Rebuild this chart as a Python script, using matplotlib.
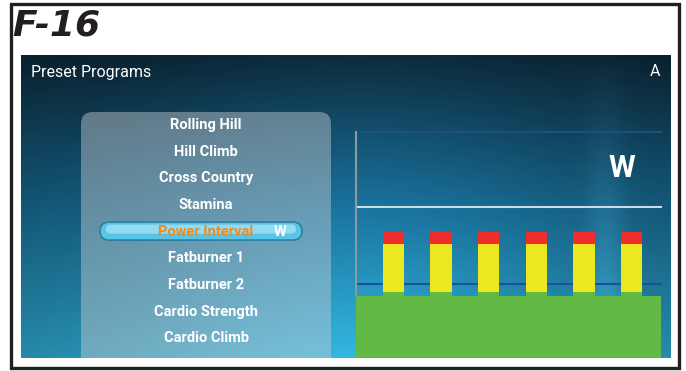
import numpy as np
import matplotlib.pyplot as plt
from matplotlib.patches import Rectangle, FancyBboxPatch

# programas da lista (em ordem, de cima para baixo)
programs = ['Rolling Hill', 'Hill Climb', 'Cross Country', 'Stamina', 'Power Interval',
            'Fatburner 1', 'Fatburner 2', 'Cardio Strength', 'Cardio Climb', 'Cardio Interval']
selected = 'Power Interval'

# perfil do programa Power Interval (niveis)
intervals = [1, 2, 3, 4, 5, 6]
base_level = 0.82
step_level = [0.88, 0.88, 0.88, 0.88, 0.88, 0.88]
yellow_top = [1.51, 1.51, 1.51, 1.51, 1.51, 1.51]
red_top = [1.67, 1.67, 1.67, 1.67, 1.67, 1.67]
grid_levels = [0.98, 2.0, 3.0]
grid_colors = ['#17529a', '#c9dde6', '#1d4f86']

W, H = 686, 371
fig = plt.figure(figsize=(W / 100, H / 100), dpi=100)
fig.patch.set_facecolor('white')
ax = fig.add_axes([0, 0, 1, 1])
ax.set_xlim(0, W)
ax.set_ylim(H, 0)
ax.axis('off')

# fundo da tela (gradiente tipo papel de parede)
sx0, sx1, sy0, sy1 = 21, 671, 55, 358
ny, nx = 200, 400
yy, xx = np.mgrid[0:1:ny * 1j, 0:1:nx * 1j]
top = np.array([0.05, 0.17, 0.24])
mid = np.array([0.10, 0.45, 0.62])
bot = np.array([0.20, 0.72, 0.88])
t = yy[..., None]
col = np.where(t < 0.5, top + (mid - top) * (t / 0.5), mid + (bot - mid) * ((t - 0.5) / 0.5))
shade = 0.72 + 0.28 * np.exp(-((xx - 0.52) / 0.35) ** 2)
col = col * shade[..., None]
beam = 0.12 * np.exp(-((xx - 0.9) / 0.03) ** 2) * (0.1 + yy)
col = np.clip(col + beam[..., None] * np.array([0.6, 0.9, 1.0]), 0, 1)
ax.imshow(col, extent=(sx0, sx1, sy1, sy0), aspect='auto', zorder=0)
screen = Rectangle((sx0, sy0), sx1 - sx0, sy1 - sy0, transform=ax.transData, fill=False, lw=0)
ax.add_patch(screen)

ax.text(31, 72, 'Preset Programs', color='white', fontsize=11.5, family='Roboto', va='center')
ax.text(655, 72, 'A', color='white', fontsize=11.5, family='Roboto', va='center', ha='center')

# painel da lista
panel = FancyBboxPatch((81, 112), 250, 280, boxstyle='round,pad=0,rounding_size=12',
                       fc=(0.78, 0.80, 0.82), alpha=0.45, lw=0, zorder=2)
ax.add_patch(panel)
panel.set_clip_path(screen)

y0, dy = 125, 26.65
for i, name in enumerate(programs):
    y = y0 + i * dy
    if name == selected:
        pill = FancyBboxPatch((100, y - 9.5), 202, 18, boxstyle='round,pad=0,rounding_size=9',
                              fc='#58c4e6', ec='#2a7fa3', lw=1.2, zorder=3)
        ax.add_patch(pill)
        hl = FancyBboxPatch((106, y - 7), 190, 9, boxstyle='round,pad=0,rounding_size=4.5',
                            fc='#a6e4f6', ec='none', alpha=0.75, zorder=3)
        ax.add_patch(hl)
        ax.text(206, y, name, color='#f28a1c', fontsize=10.5, weight='bold',
                family='Roboto', ha='center', va='center', zorder=4)
        ax.text(280, y, 'W', color='white', fontsize=10.5, weight='bold',
                family='Roboto', ha='center', va='center', zorder=4)
    else:
        tx = ax.text(206, y, name, color='white', fontsize=10.5, weight='bold',
                     family='Roboto', ha='center', va='center', zorder=4)
        tx.set_clip_path(screen)

ax.text(622, 168, 'W', color='white', fontsize=22, weight='bold', family='Roboto',
        ha='center', va='center', zorder=4)

# titulo e moldura
ax.text(12, 26, 'F-16', fontsize=26, weight='bold', style='italic', family='DejaVu Sans',
        va='center', ha='left', color='#231f20')
ax.add_patch(Rectangle((11, 4), 668, 364, fill=False, ec='#231f20', lw=2.4, zorder=5))

# grafico do perfil
cx0, cx1, cy0, cy1 = 356, 661, 132, 358
cax = fig.add_axes([cx0 / W, (H - cy1) / H, (cx1 - cx0) / W, (cy1 - cy0) / H])
cax.patch.set_alpha(0)
cax.set_xlim(0.217, 0.217 + (cx1 - cx0) / 47.64)
cax.set_ylim(0, 3.0)
for s in ['top', 'right', 'bottom']:
    cax.spines[s].set_visible(False)
cax.spines['left'].set_color('#8d9aa0')
cax.spines['left'].set_linewidth(1.5)
cax.spines['left'].set_bounds(base_level, 3.0)
cax.set_xticks([])
cax.set_yticks([])
for lv, c in zip(grid_levels, grid_colors):
    cax.axhline(lv, color=c, lw=1.5, zorder=1, clip_on=False)
cax.axhspan(0, base_level, color='#62b946', lw=0, zorder=2)
steps = np.array(step_level)
yel = np.array(yellow_top)
red = np.array(red_top)
cax.bar(intervals, steps - base_level, width=0.45, bottom=base_level, color='#62b946', zorder=2)
cax.bar(intervals, yel - steps, width=0.45, bottom=steps, color='#ebe820', zorder=2)
cax.bar(intervals, red - yel, width=0.45, bottom=yel, color='#ee2e2c', zorder=2)

fig.savefig('out.png', dpi=100)
